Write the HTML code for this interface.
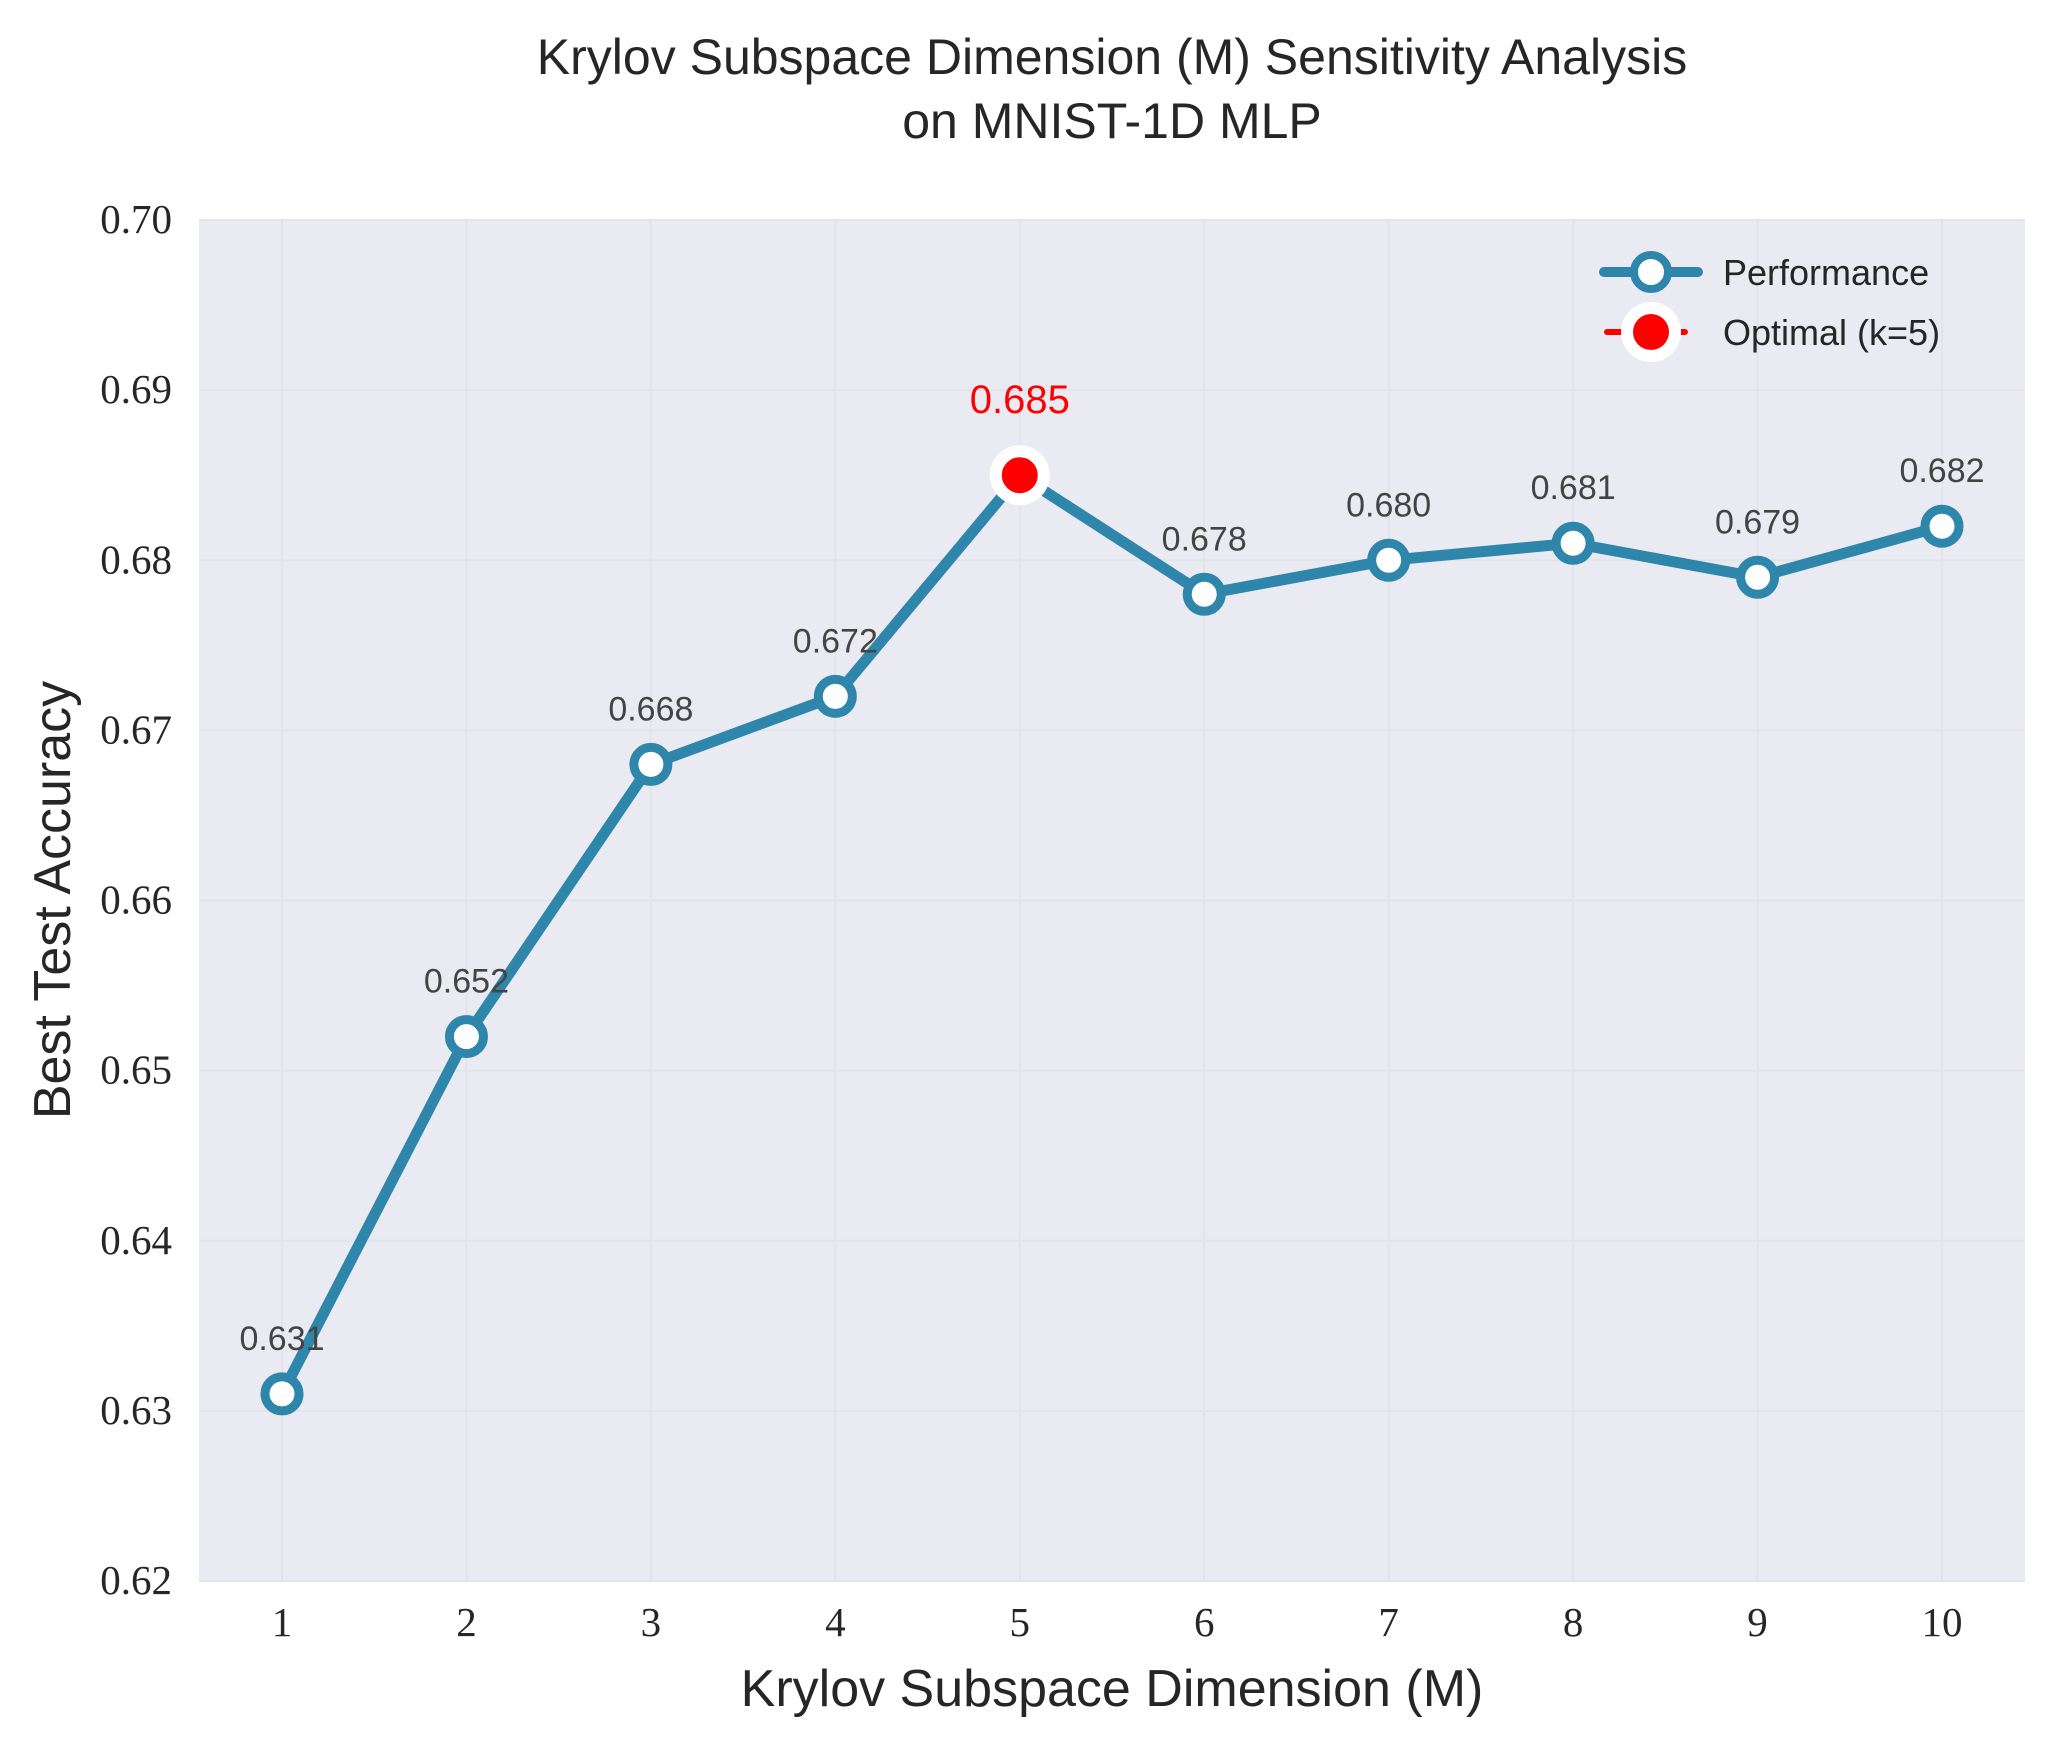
<!DOCTYPE html>
<html><head><meta charset="utf-8"><style>
body{margin:0;background:#fff}
svg text{font-family:"Liberation Sans","DejaVu Sans",sans-serif}
.tick{font-family:"Liberation Serif",serif;font-size:41px;fill:#262626}
</style></head><body>
<svg id="chart" width="2052" height="1752" viewBox="0 0 2052 1752">
<text x="1112" y="74" text-anchor="middle" font-size="50" fill="#262626">Krylov Subspace Dimension (M) Sensitivity Analysis</text>
<text x="1112" y="138" text-anchor="middle" font-size="50" fill="#262626">on MNIST-1D MLP</text>
<rect x="199" y="220" width="1826" height="1361" fill="#eaeaf2"/>
<g id="grid"></g><g id="ticks"></g><g id="series"></g><g id="labels"></g>
<text x="1112" y="1706" text-anchor="middle" font-size="52" fill="#262626">Krylov Subspace Dimension (M)</text>
<text transform="translate(70,900) rotate(-90)" text-anchor="middle" font-size="52" fill="#262626">Best Test Accuracy</text>
<g>
<line x1="1604" y1="272" x2="1698" y2="272" stroke="#2E86AB" stroke-width="10" stroke-linecap="round"/>
<circle cx="1651" cy="272" r="17" fill="#fff" stroke="#2E86AB" stroke-width="8"/>
<text x="1723" y="285" font-size="36" fill="#262626">Performance</text>
<line x1="1607" y1="332" x2="1695" y2="332" stroke="#ff0000" stroke-width="6" stroke-linecap="round" stroke-dasharray="14 50"/>
<circle cx="1651" cy="332" r="30" fill="#fff"/>
<circle cx="1651" cy="332" r="18" fill="#ff0000"/>
<text x="1723" y="345" font-size="36" fill="#262626">Optimal (k=5)</text>
</g>
</svg>
<script>
const categories=[1,2,3,4,5,6,7,8,9,10];
const accuracy=[0.631,0.652,0.668,0.672,0.685,0.678,0.680,0.681,0.679,0.682];
const valueLabels=["0.631","0.652","0.668","0.672","0.685","0.678","0.680","0.681","0.679","0.682"];
const yTicks=[0.62,0.63,0.64,0.65,0.66,0.67,0.68,0.69,0.70];
const yTickLabels=["0.62","0.63","0.64","0.65","0.66","0.67","0.68","0.69","0.70"];
const optimalIndex=4;
const NS="http://www.w3.org/2000/svg";
function xs(v){return 199+(v-0.55)/9.9*1826;}
function ys(v){return 1581-(v-0.62)/0.08*1361;}
function mk(t,a,p){const e=document.createElementNS(NS,t);for(const k in a)e.setAttribute(k,a[k]);p.appendChild(e);return e;}
const grid=document.getElementById('grid'),ticks=document.getElementById('ticks'),ser=document.getElementById('series'),lab=document.getElementById('labels');
yTicks.forEach((v,i)=>{
 const g=mk('line',{x1:199,x2:2025,y1:ys(v),y2:ys(v),stroke:'#e3e3ea','stroke-width':2},grid);
 
 
 const t=mk('text',{x:172,y:ys(v)+13,'text-anchor':'end',class:'tick'},ticks);t.textContent=yTickLabels[i];
 
 
});
categories.forEach(c=>{
 const g=mk('line',{x1:xs(c),x2:xs(c),y1:220,y2:1581,stroke:'#e3e3ea','stroke-width':2},grid);
 
 
 const t=mk('text',{x:xs(c),y:1636,'text-anchor':'middle',class:'tick'},ticks);t.textContent=String(c);
 
 
});
const pl=mk('polyline',{points:categories.map((c,i)=>xs(c)+','+ys(accuracy[i])).join(' '),fill:'none',stroke:'#2E86AB','stroke-width':11,'stroke-linejoin':'round'},ser);


categories.forEach((c,i)=>{
 const m=mk('circle',{cx:xs(c),cy:ys(accuracy[i]),r:17,fill:'#fff',stroke:'#2E86AB','stroke-width':9},ser);
 
 
 const opt=i===optimalIndex;
 const t=mk('text',{x:xs(c),y:ys(accuracy[i])-(opt?62:44),'text-anchor':'middle','font-size':opt?40:34,fill:opt?'#ff0000':'#444444'},lab);
 t.textContent=valueLabels[i];
 
 
});
const oc=categories[optimalIndex],ov=accuracy[optimalIndex];
const w=mk('circle',{cx:xs(oc),cy:ys(ov),r:30,fill:'#fff'},ser);


const r=mk('circle',{cx:xs(oc),cy:ys(ov),r:18,fill:'#ff0000'},ser);


</script>
</body></html>
